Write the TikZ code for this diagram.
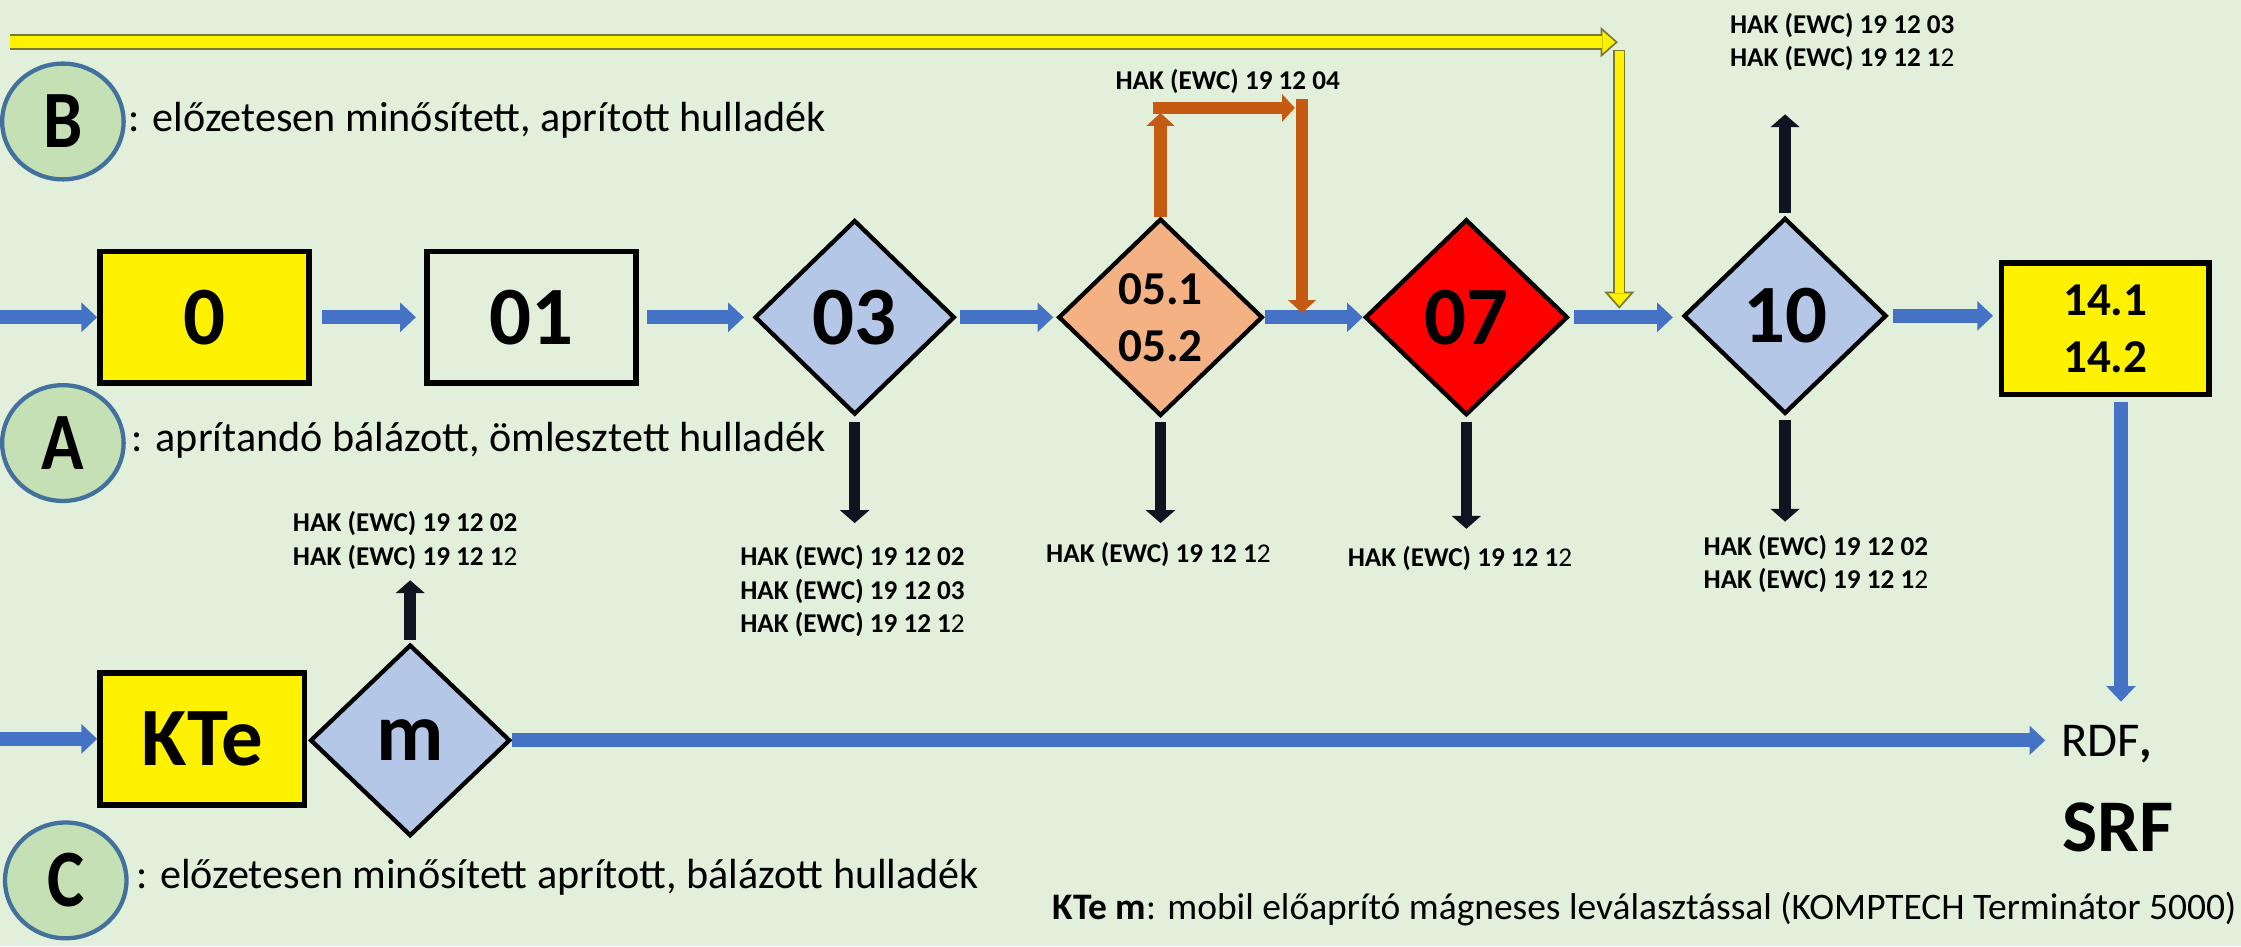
\documentclass[tikz,border=0pt]{standalone}
\usepackage{fontspec}
\setmainfont{Carlito}
\newfontfamily\condfont{Carlito}[FakeStretch=0.86]
\usetikzlibrary{shapes.geometric,arrows.meta}
\definecolor{bgc}{HTML}{E2EFDA}
\definecolor{circfill}{HTML}{C5E0B4}
\definecolor{circline}{HTML}{41719C}
\definecolor{flowblue}{HTML}{4472C4}
\definecolor{lightblue}{HTML}{B4C7E7}
\definecolor{peach}{HTML}{F4B183}
\definecolor{rust}{HTML}{C55A11}
\definecolor{olivec}{HTML}{7A7A30}
\definecolor{arrblack}{HTML}{0E1420}
\newcommand{\fBig}{\fontsize{58}{60}\selectfont\bfseries}
\newcommand{\fMid}{\fontsize{33}{40}\selectfont\bfseries}
\newcommand{\fLab}{\fontsize{19}{23.5}\selectfont\bfseries}
\newcommand{\fDesc}{\fontsize{29.5}{34}\selectfont}
\newcommand{\fCirc}{\condfont\fontsize{57}{57}\selectfont\bfseries}
\begin{document}
\begin{tikzpicture}[x=1pt,y=-1pt,
  boxnode/.style={draw=black, line width=4pt, minimum width=146pt, minimum height=92pt, inner sep=0pt},
  dianode/.style={diamond, draw=black, line width=3pt, inner sep=0pt, aspect=1},
  circnode/.style={ellipse, draw=circline, fill=circfill, line width=3pt, minimum width=85pt, minimum height=81pt, inner sep=0pt, font=\fCirc},
  flow/.style={draw=flowblue, line width=10pt, -{Triangle[length=11pt,width=20pt]}},
  outarr/.style={draw=arrblack, line width=8pt, -{Triangle[length=9pt,width=20pt]}},
  rustarr/.style={draw=rust, line width=8.5pt, -{Triangle[length=9pt,width=19pt]}},
  yelout/.style={draw=olivec, -{Triangle[length=12pt,width=21pt,fill=yellow,line width=1.2pt]}},
  labnode/.style={font=\fLab, align=left, inner sep=0pt},
  descnode/.style={font=\fDesc, anchor=west, inner sep=0pt}
]
\fill[bgc] (0,0) rectangle (1568,662);
\useasboundingbox (0,0) rectangle (1568,662);

% circles and descriptions
\node[circnode] (cB) at (44,85) {B};
\node[circnode] (cA) at (44,310) {A};
\node[circnode] (cC) at (46,616) {C};
\node[descnode] (tB) at (90,84) {: előzetesen minősített, aprított hulladék};
\node[descnode] (tA) at (92,308) {: aprítandó bálázott, ömlesztett hulladék};
\node[descnode] (tC) at (95,614) {: előzetesen minősített aprított, bálázott hulladék};

% main row
\node[boxnode, fill=yellow, font=\fBig] (b0) at (143,222) {0};
\node[boxnode, font=\fBig] (b01) at (372,222) {01};
\node[dianode, fill=lightblue, minimum width=140pt, minimum height=136pt, font=\fBig] (d03) at (598,222) {03};
\node[dianode, fill=peach, minimum width=143pt, minimum height=138pt, font=\fMid, align=center] (d05) at (812,222) {05.1\\05.2};
\node[dianode, fill=red, minimum width=142pt, minimum height=137pt, font=\fBig] (d07) at (1026,222) {07};
\node[dianode, fill=lightblue, minimum width=142pt, minimum height=137pt, font=\fBig] (d10) at (1249,221) {10};
\node[boxnode, fill=yellow, font=\fMid, align=center, minimum width=145pt] (b14) at (1473,230) {14.1\\14.2};

% bottom row
\node[boxnode, fill=yellow, font=\fBig, minimum width=143pt] (kte) at (141.5,517) {KTe};
\node[dianode, fill=lightblue, minimum width=140pt, minimum height=134pt, font=\fBig] (dm) at (287,518) {m};

% end texts
\node[anchor=west, inner sep=0pt, font=\fontsize{34}{38}\selectfont] (rdf) at (1442,521) {RDF\textbf{,}};
\node[anchor=west, inner sep=0pt, font=\fontsize{52}{56}\selectfont\bfseries] (srf) at (1443,579) {SRF};
\node[anchor=east, inner sep=0pt, font=\fontsize{26.2}{30}\selectfont] (note) at (1565,636) {\textbf{KTe m}: mobil előaprító mágneses leválasztással (KOMPTECH Terminátor 5000)};

% HAK labels
\node[labnode] (l04) at (859,57) {HAK (EWC) 19 12 04};
\node[labnode] (l10u) at (1289,29.5) {HAK (EWC) 19 12 03\\HAK (EWC) 19 12 1{\mdseries 2}};
\node[labnode] (l03) at (596.5,413.5) {HAK (EWC) 19 12 02\\HAK (EWC) 19 12 03\\HAK (EWC) 19 12 1{\mdseries 2}};
\node[labnode] (l05) at (810.5,388) {HAK (EWC) 19 12 1{\mdseries 2}};
\node[labnode] (l07) at (1021.5,391) {HAK (EWC) 19 12 1{\mdseries 2}};
\node[labnode] (l10) at (1270.5,394.5) {HAK (EWC) 19 12 02\\HAK (EWC) 19 12 1{\mdseries 2}};
\node[labnode] (lm) at (283.5,378) {HAK (EWC) 19 12 02\\HAK (EWC) 19 12 1{\mdseries 2}};

% coordinates for free ends
\coordinate (in0) at (0,222);
\coordinate (inK) at (0,517);
\coordinate (rdfin) at (1431,518);
\coordinate (srfin) at (1484,491);
\coordinate (o03) at (598,366);
\coordinate (o05) at (812,366);
\coordinate (o07) at (1026,370);
\coordinate (o10) at (1249,365);
\coordinate (u10) at (1249,80);
\coordinate (um) at (287,406);
\coordinate (r1) at (812,79);
\coordinate (r2a) at (807,75.5);
\coordinate (r2b) at (906,75.5);
\coordinate (r3a) at (911,69);
\coordinate (r3b) at (911,219);
\coordinate (y1a) at (7,29.5);
\coordinate (y1b) at (1132,29.5);
\coordinate (y2a) at (1133,35);
\coordinate (y2b) at (1133,216);

% blue flow
\draw[flow] (in0) -- (b0.west);
\draw[flow, shorten <=7pt, shorten >=6pt] (b0.east) -- (b01.west);
\draw[flow, shorten <=6pt, shorten >=6pt] (b01.east) -- (b01.east -| d03.west);
\draw[flow, shorten <=2pt, shorten >=2pt] (d03.east) -- (d05.west);
\draw[flow] (d05.east) -- (d07.west);
\draw[flow, shorten <=3pt, shorten >=6pt] (d07.east) -- (d07.east -| d10.west);
\draw[flow, shorten <=3pt, shorten >=4pt] (d10.east) -- (d10.east -| b14.west);
\draw[flow] ([xshift=11pt,yshift=-3pt]b14.south) -- (srfin);
\draw[flow] (inK) -- (kte.west);
\draw[flow] (dm.east) -- (rdfin);

% black outputs
\draw[outarr, shorten <=4pt] (d03.south) -- (o03);
\draw[outarr, shorten <=3pt] (d05.south) -- (o05);
\draw[outarr, shorten <=3pt] (d07.south) -- (o07);
\draw[outarr, shorten <=3pt] (d10.south) -- (o10);
\draw[outarr, shorten <=2pt] (d10.north) -- (u10);
\draw[outarr, shorten <=2pt] (dm.north) -- (um);

% rust bypass
\draw[rustarr] (d05.north) -- (r1);
\draw[rustarr] (r2a) -- (r2b);
\draw[rustarr] (r3a) -- (r3b);

% yellow bypass
\draw[yelout, line width=11pt] (y1a) -- (y1b);
\draw[yellow, line width=8.6pt, shorten >=11pt] (y1a) -- (y1b);
\draw[yelout, line width=8.5pt] (y2a) -- (y2b);
\draw[yellow, line width=6.3pt, shorten >=11pt, shorten <=1pt] (y2a) -- (y2b);
\end{tikzpicture}
\end{document}
